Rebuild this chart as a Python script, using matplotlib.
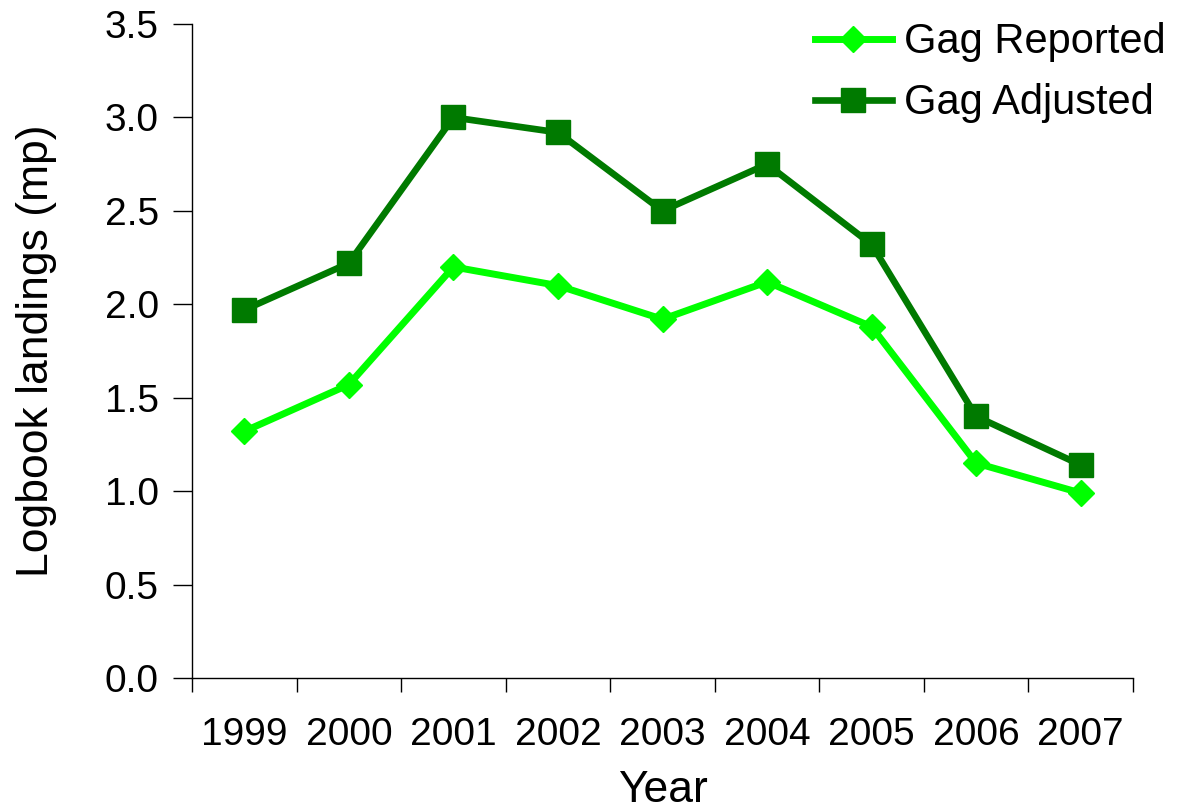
import matplotlib
matplotlib.use("Agg")
import matplotlib.pyplot as plt
import numpy as np

plt.rcParams['font.family'] = ['Liberation Sans', 'DejaVu Sans']

years = ["1999", "2000", "2001", "2002", "2003", "2004", "2005", "2006", "2007"]
gag_reported = [1.32, 1.57, 2.20, 2.10, 1.92, 2.12, 1.88, 1.15, 0.99]
gag_adjusted = [1.97, 2.22, 3.00, 2.92, 2.50, 2.75, 2.32, 1.40, 1.14]
yticks = [0.0, 0.5, 1.0, 1.5, 2.0, 2.5, 3.0, 3.5]

fig = plt.figure(figsize=(11.77, 8.11), dpi=100)
ax = fig.add_axes([192/1177, 1-678/811, (1133-192)/1177, (678-24)/811])

x = np.arange(1, len(years) + 1)
ax.plot(x, gag_reported, color='#00FF00', lw=5, marker='D', ms=13,
        label='Gag Reported', solid_joinstyle='miter')
ax.plot(x, gag_adjusted, color='#007A00', lw=4.8, marker='s', ms=17,
        label='Gag Adjusted', solid_joinstyle='miter')

ax.set_xlim(0.5, len(years) + 0.5)
ax.set_ylim(0, 3.5)
ax.set_yticks(yticks)
ax.set_yticklabels([f"{v:.1f}" for v in yticks])
ax.set_xticks(x)
ax.set_xticklabels(years)
ax.set_xticks(np.arange(0.5, len(years) + 1), minor=True)
ax.tick_params(axis='x', which='major', length=0, labelsize=28, pad=28)
ax.tick_params(axis='x', which='minor', length=10, width=1, direction='out')
ax.tick_params(axis='y', length=14, width=1, direction='out', labelsize=28, pad=10)

for s in ['top', 'right']:
    ax.spines[s].set_visible(False)
for s in ['left', 'bottom']:
    ax.spines[s].set_linewidth(1)
    ax.spines[s].set_color('black')

ax.set_xlabel('Year', fontsize=32, labelpad=12)
ax.set_ylabel('Logbook landings (mp)', fontsize=32, labelpad=34)

leg = ax.legend(loc='upper right', frameon=False, fontsize=30,
                handlelength=1.85, handletextpad=0.3, labelspacing=0.5,
                bbox_to_anchor=(1.075, 1.06))

fig.savefig('out.png', dpi=100)
